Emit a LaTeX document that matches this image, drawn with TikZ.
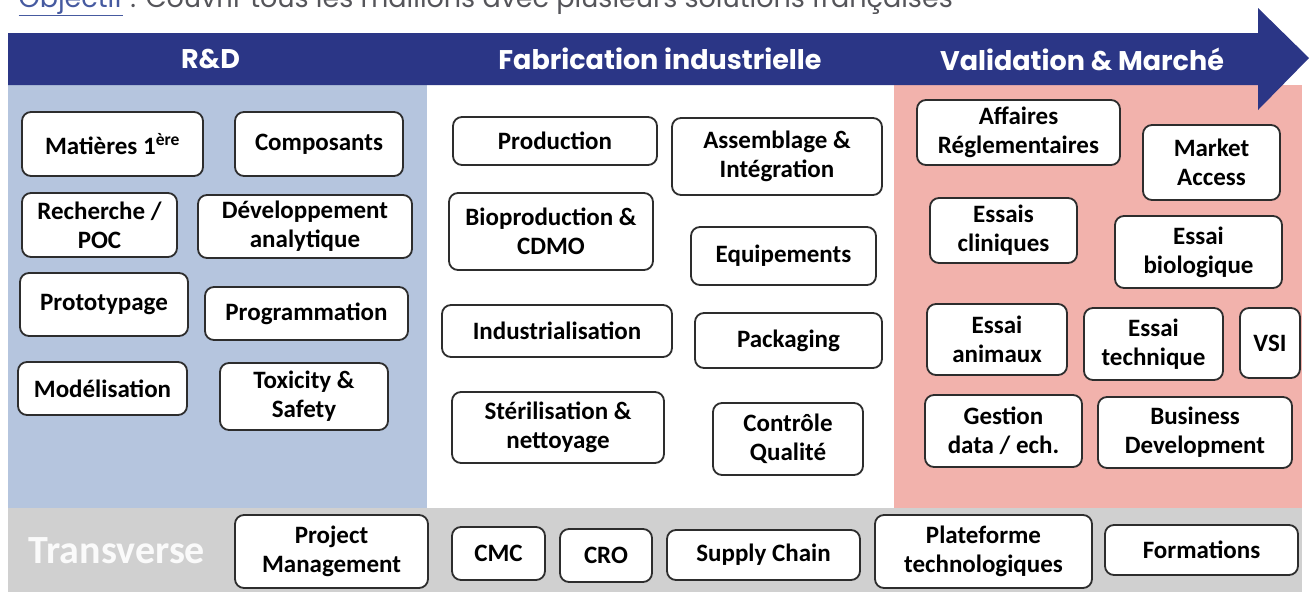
\documentclass[tikz,border=0pt]{standalone}
\usepackage{fontspec}
\setmainfont{Carlito}
\newfontfamily\headfont{Poppins}
\usepackage{tikz}
\usetikzlibrary{positioning}
\definecolor{figblue}{RGB}{43,54,134}
\definecolor{figband}{RGB}{181,197,222}
\definecolor{figpink}{RGB}{242,178,172}
\definecolor{figgray}{RGB}{208,208,208}
\definecolor{figedge}{RGB}{45,45,45}
\definecolor{figtext}{RGB}{85,85,90}
\definecolor{figlink}{RGB}{70,90,160}
\tikzset{
  fcell/.style={draw=figedge,fill=white,rounded corners=9pt,line width=1.8pt,
                align=center,inner sep=2pt,
                font=\fontsize{25}{29}\selectfont\bfseries},
  fsize/.style 2 args={minimum width=#1pt,minimum height=#2pt},
  fhead/.style={white,font=\headfont\fontsize{27}{30}\selectfont\bfseries},
}

\begin{document}
\begin{tikzpicture}[x=1pt,y=-1pt]
    \clip (0,0) rectangle (1310,595);
    % columns and bands
    \fill[figband] (8,85) rectangle (427,508);
    \fill[white] (427,85) rectangle (894,508);
    \fill[figpink] (894,85) rectangle (1302,508);
    \fill[figgray] (8,508) rectangle (1302,592);
    \fill[figblue] (8,33) -- (1258,33) -- (1258,8) -- (1309,58)
          -- (1258,110) -- (1258,85) -- (8,85) -- cycle;
    \node[anchor=base west,figtext,font=\headfont\fontsize{27}{30}\selectfont] (goal) at (15,7)
          {\textcolor{figlink}{\underline{Objectif}} : Couvrir tous les maillons avec plusieurs solutions françaises};
    \node[fhead] (rd) at (210.5,59) {R\&D};
    \node[fhead] (fab) at (660,59) {Fabrication industrielle};
    \node[fhead] (val) at (1082,59) {Validation \& Marché};
    % R&D
    \node[fcell,fsize={181}{64}] (mat) at (112.5,144) {Matières 1\textsuperscript{ère}};
    \node[fcell,fsize={168}{64}] (comp) at (319,144) {Composants};
    \node[fcell,fsize={155}{64}] (rech) at (99.5,225) {Recherche /\\POC};
    \node[fcell,fsize={214}{63}] (dev) at (305,226.5) {Développement\\analytique};
    \node[fcell,fsize={168}{63}] (proto) at (104,304.5) {Prototypage};
    \node[fcell,fsize={203}{53}] (prog) at (306.5,313.5) {Programmation};
    \node[fcell,fsize={169}{53}] (model) at (102.5,388.5) {Modélisation};
    \node[fcell,fsize={168}{67}] (tox) at (304,396.5) {Toxicity \&\\Safety};
    % Fabrication
    \node[fcell,fsize={204}{48}] (prod) at (555,141) {Production};
    \node[fcell,fsize={210}{77}] (assem) at (777,156.5) {Assemblage \&\\Intégration};
    \node[fcell,fsize={204}{77}] (biop) at (551,231.5) {Bioproduction \&\\CDMO};
    \node[fcell,fsize={185}{58}] (equip) at (783.5,256) {Equipements};
    \node[fcell,fsize={230}{52}] (indus) at (557,331) {Industrialisation};
    \node[fcell,fsize={187}{55}] (pack) at (788.5,340.5) {Packaging};
    \node[fcell,fsize={212}{71}] (steril) at (558,427.5) {Stérilisation \&\\nettoyage};
    \node[fcell,fsize={150}{72}] (ctrl) at (788,439) {Contrôle\\Qualité};
    % Validation
    \node[fcell,fsize={203}{65}] (aff) at (1018.5,132.5) {Affaires\\Réglementaires};
    \node[fcell,fsize={137}{75}] (mkt) at (1211.5,162.5) {Market\\Access};
    \node[fcell,fsize={147}{65}] (eclin) at (1003.5,230.5) {Essais\\cliniques};
    \node[fcell,fsize={167}{72}] (ebio) at (1198.5,252) {Essai\\biologique};
    \node[fcell,fsize={140}{71}] (eanim) at (997,339.5) {Essai\\animaux};
    \node[fcell,fsize={139}{72}] (etech) at (1153.5,344) {Essai\\technique};
    \node[fcell,fsize={60}{70}] (vsi) at (1270,343) {VSI};
    \node[fcell,fsize={157}{72}] (gest) at (1003.5,431) {Gestion\\data / ech.};
    \node[fcell,fsize={194}{71}] (busi) at (1195,432.5) {Business\\Development};
    % Transverse
    \node[white!96!gray,font=\fontsize{40}{44}\selectfont\bfseries] (trans) at (117,551) {Transverse};
    \node[fcell,fsize={193}{73}] (pm) at (331.5,551.5) {Project\\Management};
    \node[fcell,fsize={93}{53}] (cmc) at (498.5,553.5) {CMC};
    \node[fcell,fsize={92}{53}] (cro) at (606,555.5) {CRO};
    \node[fcell,fsize={193}{50}] (supply) at (763.5,555) {Supply Chain};
    \node[fcell,fsize={217}{73}] (plat) at (983.5,551.5) {Plateforme\\technologiques};
    \node[fcell,fsize={193}{50}] (form) at (1201.5,550) {Formations};
\end{tikzpicture}
\end{document}
